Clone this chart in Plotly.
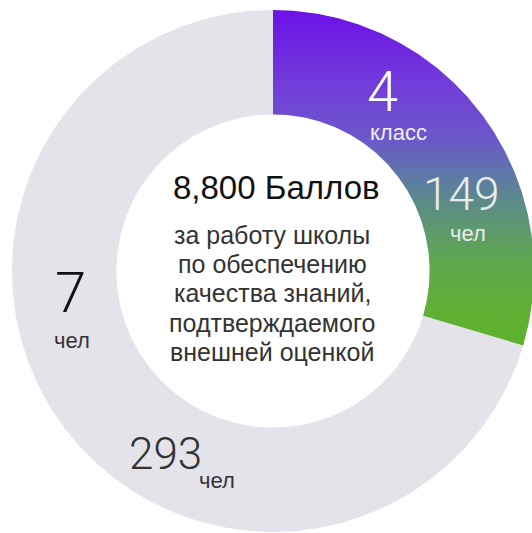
import numpy as np
import plotly.graph_objects as go

# ---- data ----
slice_names = ["4 класс", "остальные"]
slice_shares = [29.6, 70.4]          # share of the ring, %
slice_counts = ["149", "293"]
class_label = "4"
class_word = "класс"
other_label = "7"
unit_word = "чел"
center_title = "8,800 Баллов"
center_lines = ["за работу школы", "по обеспечению", "качества знаний,",
                "подтверждаемого", "внешней оценкой"]

# ---- geometry ----
R_OUT = 1.0
R_IN = 0.6
W, H = 532, 533
CX, CY, RPX = 273, 271, 261   # center and radius in pixels


def ring_sector(a0, a1, n=240):
    t = np.radians(np.linspace(a0, a1, n))
    xo, yo = R_OUT * np.cos(t), R_OUT * np.sin(t)
    xi, yi = R_IN * np.cos(t[::-1]), R_IN * np.sin(t[::-1])
    x = np.concatenate([xo, xi, xo[:1]])
    y = np.concatenate([yo, yi, yo[:1]])
    return x, y


total = sum(slice_shares)
sweep = [s / total * 360 for s in slice_shares]
start = 90.0

fig = go.Figure()

x2, y2 = ring_sector(start - sweep[0], start - 360)
fig.add_trace(go.Scatter(x=x2, y=y2, fill="toself", mode="lines",
                         line=dict(width=0, color="#E4E3EA"),
                         fillcolor="#E4E3EA", hoverinfo="skip",
                         name=slice_names[1]))

x1, y1 = ring_sector(start, start - sweep[0])
fig.add_trace(go.Scatter(
    x=x1, y=y1, fill="toself", mode="lines",
    line=dict(width=0, color="rgba(0,0,0,0)"),
    fillgradient=dict(type="vertical", colorscale=[
        [0.0, "#5EB22C"], [0.134, "#60AE38"], [0.254, "#5FA650"],
        [0.343, "#5E9A6C"], [0.433, "#5C8A8A"], [0.507, "#5E78A8"],
        [0.612, "#6B58C8"], [0.761, "#7240D8"], [1.0, "#6C10E8"]]),
    hoverinfo="skip", name=slice_names[0]))


def px(xp, yp):
    return xp / W, 1 - yp / H


annotations = []
SANS = "Arial, Liberation Sans, sans-serif"
LIGHT = "Roboto, Arial, sans-serif"


def add_text(text, xp, yp, size, color, family=SANS, weight=400):
    x, y = px(xp, yp)
    annotations.append(dict(text=text, x=x, y=y, xref="paper", yref="paper",
                            showarrow=False, xanchor="center", yanchor="middle",
                            font=dict(family=family, size=size, color=color,
                                      weight=weight)))


add_text(class_label, 382, 92, 56, "white", LIGHT, 300)
add_text(class_word, 398, 132, 22, "#F2F0FA")
add_text(slice_counts[0], 461, 194, 46, "#E8ECEA", LIGHT, 300)
add_text(unit_word, 468, 234, 22, "#E8ECEA")
add_text(center_title, 276, 188, 33, "#111111")
for i, line in enumerate(center_lines):
    add_text(line, 272, 235 + i * 29.2, 25, "#333333")
add_text(other_label, 70, 293, 56, "#111111", LIGHT, 300)
add_text(unit_word, 72, 341, 22, "#333333")
add_text(slice_counts[1], 165, 454, 44, "#333333", LIGHT, 300)
add_text(unit_word, 217, 480, 22, "#333333")

fig.update_layout(
    width=W, height=H,
    margin=dict(l=0, r=0, t=0, b=0),
    paper_bgcolor="white", plot_bgcolor="white",
    showlegend=False,
    xaxis=dict(range=[-CX / RPX, (W - CX) / RPX], visible=False, fixedrange=True),
    yaxis=dict(range=[-(H - CY) / RPX, CY / RPX], visible=False, fixedrange=True),
    annotations=annotations,
)

fig.write_html("out.html", config={"displayModeBar": False},
               post_script="document.body.style.margin='0';document.body.style.overflow='hidden';")
